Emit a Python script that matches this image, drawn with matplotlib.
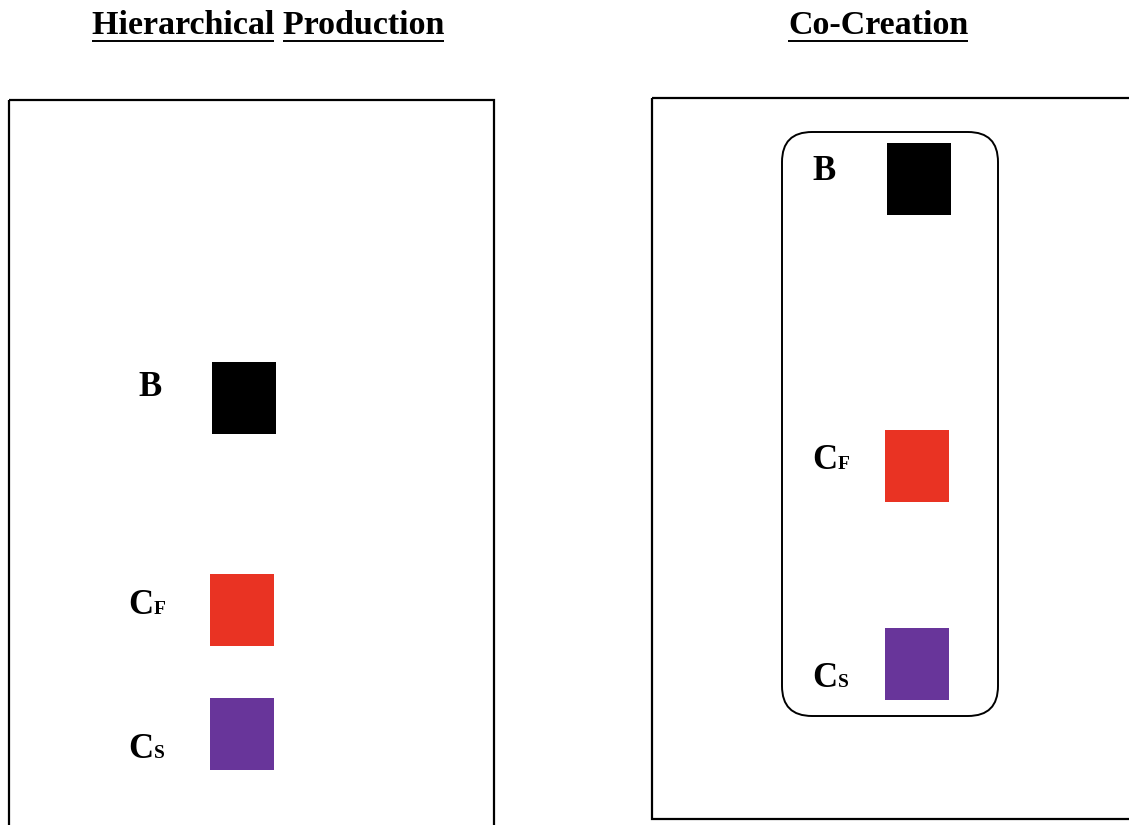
import matplotlib.pyplot as plt
from matplotlib.patches import Rectangle, FancyBboxPatch

# panel titles (each word is underlined on its own)
titles = [["Hierarchical", "Production"], ["Co-Creation"]]
title_x = [268, 878]

# actors in each panel: main letter, subscript, colour
letters = ["C", "C", "B"]
subs = ["S", "F", ""]
colors = ["#68359a", "#e93323", "#000000"]

# square top edges (pixels) for each panel, order as above
left_tops = [698, 574, 362]
right_tops = [628, 430, 143]
left_sq_x = [210, 210, 212]
right_sq_x = [885, 885, 887]

W, H = 1129, 825
fig = plt.figure(figsize=(W / 100, H / 100), dpi=100)
ax = fig.add_axes([0, 0, 1, 1])
ax.set_xlim(0, W)
ax.set_ylim(H, 0)
ax.axis("off")

font = "Liberation Serif"
tsize = 24.5

# outer frames
ax.add_patch(Rectangle((9, 100), 485, 740, fill=False, lw=1.6, ec="black"))
ax.add_patch(Rectangle((652, 98), 500, 721, fill=False, lw=1.6, ec="black"))
# rounded group box for co-creation
ax.add_patch(FancyBboxPatch((782 + 30, 132 + 30), 216 - 60, 584 - 60,
                            boxstyle="round,pad=30", fill=False, lw=1.4, ec="black"))

# squares
for sx, top, c in zip(left_sq_x, left_tops, colors):
    ax.add_patch(Rectangle((sx, top), 64, 72, color=c, lw=0))
for sx, top, c in zip(right_sq_x, right_tops, colors):
    ax.add_patch(Rectangle((sx, top), 64, 72, color=c, lw=0))

# labels
def label(x, y, big, small):
    t = ax.text(x, y, big, fontsize=25, fontweight="bold", family=font,
                ha="left", va="baseline")
    if small:
        fig.canvas.draw()
        bb = t.get_window_extent().transformed(ax.transData.inverted())
        ax.text(bb.x1 + 1, y, small, fontsize=14, fontweight="bold",
                family=font, ha="left", va="baseline")

left_lab = [(128, 758), (128, 614), (138, 396)]
right_lab = [(812, 687), (812, 469), (812, 180)]
for (x, y), b, s in zip(left_lab, letters, subs):
    label(x, y, b, s)
for (x, y), b, s in zip(right_lab, letters, subs):
    label(x, y, b, s)

# titles with underlines under each word
fig.canvas.draw()
r = fig.canvas.get_renderer()
for words, cx in zip(titles, title_x):
    t = ax.text(cx, 34, " ".join(words), fontsize=tsize, fontweight="bold",
                family=font, ha="center", va="baseline")
    bb = t.get_window_extent(r).transformed(ax.transData.inverted())
    x0 = bb.x0
    for w in words:
        tmp = ax.text(0, 0, w, fontsize=tsize, fontweight="bold", family=font)
        wb = tmp.get_window_extent(r).transformed(ax.transData.inverted())
        ww = wb.x1 - wb.x0
        tmp.remove()
        ax.plot([x0, x0 + ww], [40.5, 40.5], color="black", lw=1.4,
                solid_capstyle="butt")
        sp = ax.text(0, 0, w + " ", fontsize=tsize, fontweight="bold", family=font)
        sb = sp.get_window_extent(r).transformed(ax.transData.inverted())
        x0 += sb.x1 - sb.x0
        sp.remove()

fig.savefig("out.png", dpi=100)
